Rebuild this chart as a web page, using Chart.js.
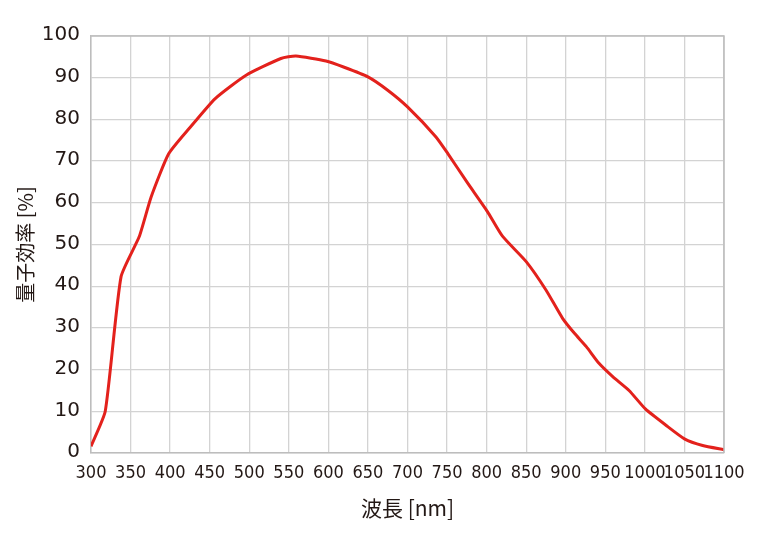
<!DOCTYPE html>
<html>
<head>
<meta charset="utf-8">
<script src="https://cdn.jsdelivr.net/npm/chart.js@4/dist/chart.umd.min.js"></script>
<style>
html,body{margin:0;padding:0;background:#fff;}
#wrap{width:768px;height:533px;}
</style>
</head>
<body>
<div id="wrap"><canvas id="c" width="768" height="533"></canvas></div>
<script>
const wavelengths = [300, 318, 338, 361, 376, 398, 424, 457, 496, 540, 559, 597, 620, 650, 675, 700, 736, 751, 775, 801, 820, 850, 875, 896, 911, 926, 942, 960, 980, 1001, 1027, 1050, 1073, 1100];
const efficiency  = [1.6, 10.0, 42.3, 51.9, 61.4, 71.7, 77.8, 85.0, 90.6, 94.6, 95.2, 94.0, 92.5, 90.2, 87.0, 83.0, 75.8, 71.8, 65.0, 57.9, 52.0, 45.9, 39.1, 32.3, 28.7, 25.5, 21.5, 18.2, 15.0, 10.5, 6.6, 3.4, 1.8, 0.8];
const xTicks = [300, 350, 400, 450, 500, 550, 600, 650, 700, 750, 800, 850, 900, 950, 1000, 1050, 1100];
const yTicks = [0, 10, 20, 30, 40, 50, 60, 70, 80, 90, 100];
const xTitle = '波長 [nm]';
const yTitle = '量子効率 [%]';

const textColor = '#231815';
const gridColor = '#d3d3d3';

new Chart(document.getElementById('c'), {
  type: 'line',
  data: {
    datasets: [{
      data: wavelengths.map((w, i) => ({x: w, y: efficiency[i]})),
      borderColor: '#e3211c',
      borderWidth: 3,
      pointRadius: 0,
      tension: 0.18,
      fill: false
    }]
  },
  options: {
    responsive: false,
    animation: false,
    layout: {padding: {left: 0, top: 36, right: 44, bottom: 0}},
    plugins: {legend: {display: false}, tooltip: {enabled: false}},
    scales: {
      x: {
        type: 'linear',
        min: 300, max: 1100,
        afterBuildTicks: s => { s.ticks = xTicks.map(v => ({value: v})); },
        afterFit: s => { s.height = 80; },
        grid: {color: gridColor, lineWidth: 1.3, drawTicks: false},
        border: {color: '#bdbdbd', width: 1.5},
        ticks: {
          color: textColor,
          padding: 10,
          maxRotation: 0,
          autoSkip: false,
          callback: v => String(v),
          font: {family: '"DejaVu Sans", sans-serif', weight: 'normal condensed', size: 18}
        },
        title: {
          display: true, text: xTitle, color: textColor,
          font: {family: '"Noto Sans CJK JP", sans-serif', size: 21},
          padding: {top: 0, bottom: 12}
        }
      },
      y: {
        min: 0, max: 100,
        afterBuildTicks: s => { s.ticks = yTicks.map(v => ({value: v})); },
        afterFit: s => { s.width = 91; },
        grid: {color: gridColor, lineWidth: 1.3, drawTicks: false},
        border: {color: '#bdbdbd', width: 1.5},
        ticks: {
          color: textColor,
          padding: 11,
          labelOffset: -1,
          callback: v => String(v),
          font: {family: '"DejaVu Sans", sans-serif', size: 20}
        },
        title: {
          display: true, text: yTitle, color: textColor,
          font: {family: '"Noto Sans CJK JP", sans-serif', size: 20},
          padding: {top: 13, bottom: 0}
        }
      }
    }
  },
  plugins: [{
    id: 'frame',
    afterDraw(chart) {
      const {ctx, chartArea: a} = chart;
      ctx.save();
      ctx.strokeStyle = '#bdbdbd';
      ctx.lineWidth = 1.5;
      ctx.beginPath();
      ctx.moveTo(a.left, a.top); ctx.lineTo(a.right, a.top); ctx.lineTo(a.right, a.bottom);
      ctx.stroke();
      ctx.restore();
    }
  }]
});
</script>
</body>
</html>
